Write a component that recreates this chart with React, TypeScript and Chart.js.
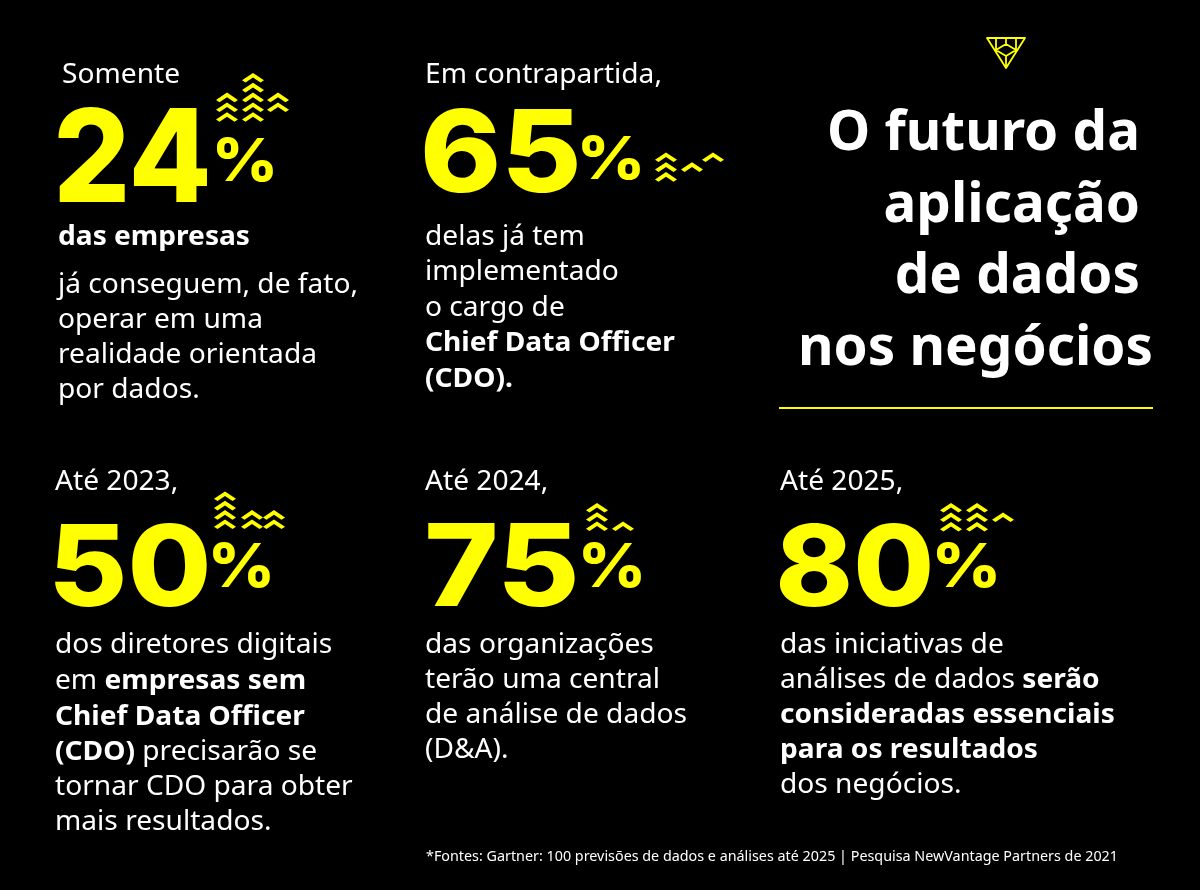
import React, { useEffect, useRef } from "react";
import { Chart, registerables } from "chart.js";

Chart.register(...registerables);

// ---------- DATA ----------
const percentValues = [24, 65, 50, 75, 80];
const leadLabels = ["Somente", "Em contrapartida,", "Até 2023,", "Até 2024,", "Até 2025,"];

type Run = [string, boolean];
const description1: Run[][] = [
  [["das empresas", true]],
  [["já conseguem, de fato,", false]],
  [["operar em uma", false]],
  [["realidade orientada", false]],
  [["por dados.", false]],
];
const description2: Run[][] = [
  [["delas já tem", false]],
  [["implementado", false]],
  [["o cargo de", false]],
  [["Chief Data Officer", true]],
  [["(CDO).", true]],
];
const description3: Run[][] = [
  [["dos diretores digitais", false]],
  [["em ", false], ["empresas sem", true]],
  [["Chief Data Officer", true]],
  [["(CDO)", true], [" precisarão se", false]],
  [["tornar CDO para obter", false]],
  [["mais resultados.", false]],
];
const description4: Run[][] = [
  [["das organizações", false]],
  [["terão uma central", false]],
  [["de análise de dados", false]],
  [["(D&A).", false]],
];
const description5: Run[][] = [
  [["das iniciativas de", false]],
  [["análises de dados ", false], ["serão", true]],
  [["consideradas essenciais", true]],
  [["para os resultados", true]],
  [["dos negócios.", false]],
];
const descriptions = [description1, description2, description3, description4, description5];

const titleLines = ["O futuro da", "aplicação", "de dados", "nos negócios"];
const footnote =
  "*Fontes: Gartner: 100 previsões de dados e análises até 2025 | Pesquisa NewVantage Partners de 2021";

// chevron stacks per block: per column [firstRow, count]
const chevronStacks: [number, number][][] = [
  [[2, 3], [0, 5], [2, 2]],
  [[0, 3], [1, 1], [0, 1]],
  [[0, 4], [2, 2], [2, 2]],
  [[0, 3], [2, 1]],
  [[0, 3], [0, 3], [1, 1]],
];

// ---------- LAYOUT ----------
const YELLOW = "#ffff00";
const WHITE = "#ffffff";
const BODY_FONT = '"Noto Sans"';
const NUM_FONT = "Inter";

const blockLayout = [
  {
    lead: [62, 83], num: [58, 107, 207, 202], pct: [217, 137, 273, 182],
    chevX: [227, 253, 278], chevY0: 73, chevStep: 9.8,
    textX: 58, textY: [245, 293, 328, 363, 398],
  },
  {
    lead: [425, 83], num: [425, 108, 577, 193], pct: [582, 135, 640, 180],
    chevX: [666, 692, 713], chevY0: 152.5, chevStep: 9.8,
    textX: 425, textY: [245, 280, 316, 351, 387],
  },
  {
    lead: [55, 490], num: [55, 523, 207, 607], pct: [213, 542, 270, 588],
    chevX: [225, 252, 274], chevY0: 491.5, chevStep: 9.3,
    textX: 55, textY: [653, 689, 725, 760, 795, 830],
  },
  {
    lead: [425, 490], num: [428, 523, 575, 607], pct: [583, 542, 641, 588],
    chevX: [597, 623], chevY0: 503, chevStep: 9.2,
    textX: 425, textY: [653, 688, 723, 758],
  },
  {
    lead: [780, 490], num: [780, 523, 930, 607], pct: [937, 542, 996, 588],
    chevX: [951, 977, 1003], chevY0: 503, chevStep: 9.5,
    textX: 780, textY: [653, 688, 723, 758, 793],
  },
];

function fitText(ctx: CanvasRenderingContext2D, text: string, font: string, box: number[]) {
  const [x0, y0, x1, y1] = box;
  ctx.save();
  ctx.font = font;
  ctx.textBaseline = "alphabetic";
  ctx.textAlign = "left";
  const m = ctx.measureText(text);
  const l = m.actualBoundingBoxLeft;
  const r = m.actualBoundingBoxRight;
  const a = m.actualBoundingBoxAscent;
  const d = m.actualBoundingBoxDescent;
  const sx = (x1 - x0) / (l + r);
  const sy = (y1 - y0) / (a + d);
  ctx.translate(x0, y0);
  ctx.scale(sx, sy);
  ctx.fillText(text, l, a);
  ctx.restore();
}

function drawRuns(ctx: CanvasRenderingContext2D, runs: Run[], x: number, y: number, size: number, sx: number) {
  ctx.save();
  ctx.translate(x, y);
  ctx.scale(sx, 1);
  let cx = 0;
  for (const [t, b] of runs) {
    ctx.font = `${b ? 700 : 400} ${size}px ${BODY_FONT}`;
    ctx.fillText(t, cx, 0);
    cx += ctx.measureText(t).width;
  }
  ctx.restore();
}

function drawChevron(ctx: CanvasRenderingContext2D, x: number, y: number) {
  ctx.beginPath();
  ctx.moveTo(x, y);
  ctx.lineTo(x + 11, y + 7.3);
  ctx.lineTo(x + 7.5, y + 9.6);
  ctx.lineTo(x, y + 4.6);
  ctx.lineTo(x - 7.5, y + 9.6);
  ctx.lineTo(x - 11, y + 7.3);
  ctx.closePath();
  ctx.fill();
}

const infographicPlugin = {
  id: "infographic",
  afterDraw(chart: any) {
    const ctx: CanvasRenderingContext2D = chart.ctx;
    ctx.save();
    ctx.textBaseline = "alphabetic";
    ctx.textAlign = "left";

    const bodySize = 27;
    ctx.font = `400 ${bodySize}px ${BODY_FONT}`;
    const bodySx = 300 / ctx.measureText("já conseguem, de fato,").width;

    percentValues.forEach((v, i) => {
      const L = blockLayout[i];
      // lead label
      ctx.fillStyle = WHITE;
      drawRuns(ctx, [[leadLabels[i], false]], L.lead[0], L.lead[1], bodySize, bodySx);
      // big number
      ctx.fillStyle = YELLOW;
      fitText(ctx, String(v), `800 200px ${NUM_FONT}`, L.num);
      fitText(ctx, "%", `800 200px ${NUM_FONT}`, L.pct);
      // chevrons
      chevronStacks[i].forEach(([first, count], c) => {
        for (let k = 0; k < count; k++) {
          drawChevron(ctx, L.chevX[c], L.chevY0 + (first + k) * L.chevStep);
        }
      });
      // description
      ctx.fillStyle = WHITE;
      descriptions[i].forEach((runs, j) => {
        drawRuns(ctx, runs, L.textX, L.textY[j], bodySize, bodySx);
      });
    });

    // title
    const titleSize = 56;
    ctx.font = `700 ${titleSize}px ${BODY_FONT}`;
    const titleSx = 313 / ctx.measureText(titleLines[0]).width;
    const titleRight = [1140, 1140, 1140, 1153];
    const titleBase = [150, 222, 293, 365];
    ctx.fillStyle = WHITE;
    titleLines.forEach((t, i) => {
      ctx.font = `700 ${titleSize}px ${BODY_FONT}`;
      const w = ctx.measureText(t).width * titleSx;
      drawRuns(ctx, [[t, true]], titleRight[i] - w, titleBase[i], titleSize, titleSx);
    });

    // separator line
    ctx.strokeStyle = YELLOW;
    ctx.lineWidth = 2;
    ctx.beginPath();
    ctx.moveTo(779, 408);
    ctx.lineTo(1153, 408);
    ctx.stroke();

    // logo
    ctx.lineWidth = 1.8;
    ctx.lineJoin = "round";
    ctx.beginPath();
    ctx.moveTo(987, 38);
    ctx.lineTo(1025, 38);
    ctx.lineTo(1006, 68);
    ctx.closePath();
    ctx.moveTo(996, 38);
    ctx.lineTo(996, 50);
    ctx.lineTo(1006, 56);
    ctx.lineTo(1016, 50);
    ctx.lineTo(1016, 38);
    ctx.moveTo(996, 50);
    ctx.lineTo(1006, 44);
    ctx.lineTo(1016, 50);
    ctx.moveTo(1006, 38);
    ctx.lineTo(1006, 44);
    ctx.moveTo(1006, 56);
    ctx.lineTo(1006, 68);
    ctx.stroke();

    // footnote
    const fSize = 15;
    ctx.font = `400 ${fSize}px ${BODY_FONT}`;
    const fSx = 692 / ctx.measureText(footnote).width;
    ctx.fillStyle = WHITE;
    drawRuns(ctx, [[footnote, false]], 426, 861, fSize, fSx);

    ctx.restore();
  },
};

export default function App() {
  const canvasRef = useRef<HTMLCanvasElement | null>(null);

  useEffect(() => {
    if (!canvasRef.current) return;
    const chart = new Chart(canvasRef.current, {
      type: "scatter",
      data: { datasets: [{ data: [] }] },
      options: {
        animation: false,
        responsive: false,
        devicePixelRatio: 1,
        layout: { padding: 0 },
        plugins: { legend: { display: false }, tooltip: { enabled: false } },
        scales: { x: { display: false }, y: { display: false } },
      },
      plugins: [infographicPlugin],
    });
    return () => chart.destroy();
  }, []);

  return (
    <div
      style={{
        position: "fixed",
        left: 0,
        top: 0,
        width: 1200,
        height: 890,
        background: "#000",
      }}
    >
      <canvas ref={canvasRef} width={1200} height={890} style={{ width: 1200, height: 890, display: "block" }} />
    </div>
  );
}
